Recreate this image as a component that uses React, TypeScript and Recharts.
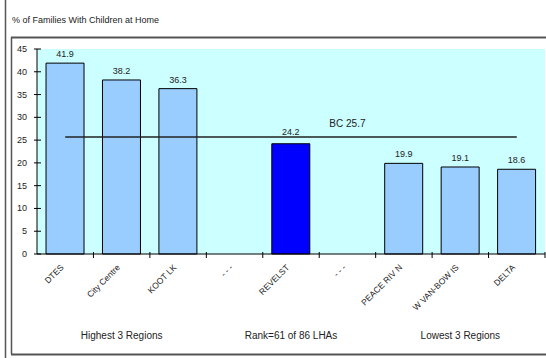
import { ComposedChart, Bar, Line, XAxis, YAxis, CartesianGrid, LabelList, Cell } from 'recharts'

// Local health areas shown on the axis, with two spacer slots between the groups
const regions = ['DTES', 'City Centre', 'KOOT LK', '- - -', 'REVELST', '- - -', 'PEACE RIV N', 'W VAN-BOW IS', 'DELTA']
const familyPct = [41.9, 38.2, 36.3, null, 24.2, null, 19.9, 19.1, 18.6]
const groupLabels = ['', 'Highest 3 Regions', '', '', 'Rank=61 of 86 LHAs', '', '', 'Lowest 3 Regions', '']
const bcAverage = 25.7
const bcLabelSlot = 5
const highlighted = 'REVELST'
const yTicks = [0, 5, 10, 15, 20, 25, 30, 35, 40, 45]

const W = 546
const H = 358
const plotLeft = 37
const plotRight = 545
const plotTop = 49
const plotBottom = 254
const yMax = 45
const halfBand = (plotRight - plotLeft) / regions.length / 2
const font = '"Liberation Sans", Arial, sans-serif'
const ink = '#222'

const data = regions.map((name, i) => ({
  key: `lha${i}`,
  name,
  pct: familyPct[i],
  bc: bcAverage,
}))

// pixel row of the BC line, used to keep bar labels off it
const bcY = plotBottom - (bcAverage / yMax) * (plotBottom - plotTop)

function YTick(props: any) {
  const { y, payload } = props
  return (
    <g>
      <line x1={plotLeft - 3} x2={plotLeft + 4} y1={y} y2={y} stroke="#000" strokeWidth={1} />
      <text x={plotLeft - 10} y={y} dy={3} textAnchor="end" fontSize={9} fill={ink} fontFamily={font}>
        {payload.value}
      </text>
    </g>
  )
}

function XTick(props: any) {
  const { x, index } = props
  const edge = x + halfBand
  const ax = x - 1
  const ay = plotBottom + 14
  return (
    <g>
      <line x1={edge} x2={edge} y1={plotBottom - 2} y2={plotBottom + 4} stroke="#000" strokeWidth={1} />
      <text
        x={ax}
        y={ay}
        textAnchor="end"
        fontSize={8.5}
        fill={ink}
        fontFamily={font}
        transform={`rotate(-45 ${ax} ${ay})`}
      >
        {regions[index]}
      </text>
      {groupLabels[index] ? (
        <text x={x} y={plotBottom + 85} textAnchor="middle" fontSize={10} fill={ink} fontFamily={font}>
          {groupLabels[index]}
        </text>
      ) : null}
    </g>
  )
}

function ValueLabel(props: any) {
  const { x, y, width, value } = props
  if (value == null) return <g />
  let base = y - 6
  // lift the label clear of the BC line when they would touch
  if (base > bcY - 4 && base < bcY + 9) base = bcY - 2
  return (
    <text x={x + width / 2} y={base} textAnchor="middle" fontSize={9} fill={ink} fontFamily={font}>
      {Number(value).toFixed(1)}
    </text>
  )
}

function BcLabel(props: any) {
  const { x, y, index } = props
  if (index !== bcLabelSlot) return <g />
  return (
    <text x={x} y={y - 10} textAnchor="middle" fontSize={10} fill={ink} fontFamily={font}>
      {`BC ${bcAverage}`}
    </text>
  )
}

export default function App() {
  return (
    <div style={{ position: 'absolute', left: 0, top: 0, width: W, height: H, background: '#fff' }}>
      <svg width={W} height={H} style={{ position: 'absolute', left: 0, top: 0 }}>
        <line x1={5.5} x2={5.5} y1={0} y2={H} stroke="#555" strokeWidth={1.5} />
        <line x1={11.5} x2={11.5} y1={37} y2={354} stroke="#555" strokeWidth={1.5} />
        <line x1={11} x2={W} y1={37.5} y2={37.5} stroke="#555" strokeWidth={2} />
        <line x1={11} x2={W} y1={354.5} y2={354.5} stroke="#555" strokeWidth={2} />
        <text x={12} y={23} fontSize={9} fill={ink} fontFamily={font}>
          % of Families With Children at Home
        </text>
      </svg>
      <div style={{ position: 'absolute', left: 0, top: 0 }}>
        <ComposedChart
          width={W}
          height={H}
          data={data}
          margin={{ top: plotTop, right: W - plotRight, bottom: 0, left: 0 }}
          barCategoryGap="16%"
        >
          <CartesianGrid horizontal={false} vertical={false} fill="#CCFFFF" />
          <XAxis
            dataKey="key"
            height={H - plotBottom}
            interval={0}
            tickLine={false}
            axisLine={{ stroke: '#000' }}
            tick={XTick}
          />
          <YAxis
            width={plotLeft}
            domain={[0, yMax]}
            ticks={yTicks}
            interval={0}
            tickLine={false}
            axisLine={{ stroke: '#000' }}
            tick={YTick}
          />
          <Bar dataKey="pct" stroke="#000" strokeWidth={1} isAnimationActive={false}>
            {data.map((d) => (
              <Cell key={d.key} fill={d.name === highlighted ? '#0000FF' : '#99CCFF'} />
            ))}
            <LabelList dataKey="pct" content={ValueLabel} />
          </Bar>
          <Line
            dataKey="bc"
            stroke="#222"
            strokeWidth={1.5}
            dot={false}
            activeDot={false}
            label={BcLabel}
            isAnimationActive={false}
          />
        </ComposedChart>
      </div>
    </div>
  )
}
